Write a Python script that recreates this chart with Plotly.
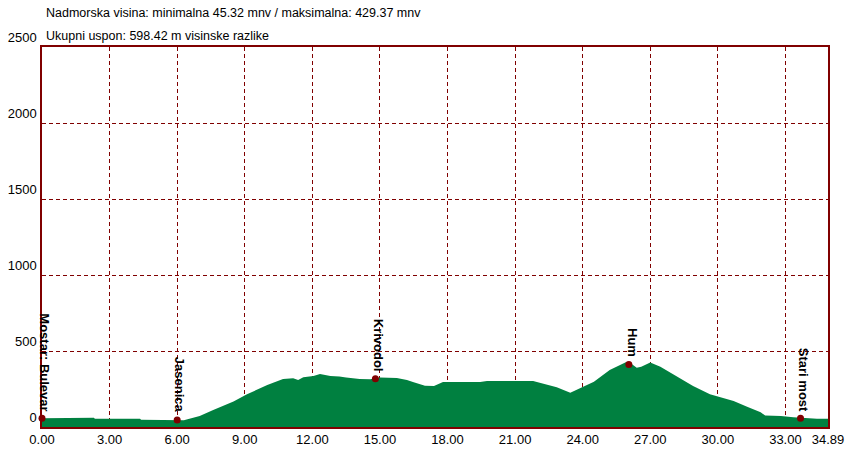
import plotly.graph_objects as go

# Elevation profile (distance km, elevation m)
dist_km = [0, 0.95, 1.0, 2.3, 2.35, 4.35, 4.4, 6.0, 6.3, 6.42, 7.0, 7.6, 8.5, 9.1, 10.0,
           10.7, 11.15, 11.37, 11.6, 12.05, 12.34, 12.8, 13.2, 13.5, 14.1, 14.57, 15.0,
           15.75, 16.2, 16.5, 17.0, 17.4, 17.8, 19.45, 19.75, 21.8, 22.25, 22.85, 23.45,
           24.0, 24.5, 25.2, 25.7, 25.96, 26.1, 26.4, 26.6, 27.0, 27.45, 28.2, 28.9,
           29.65, 30.1, 30.7, 31.3, 31.9, 32.1, 32.8, 33.35, 33.66, 34.4, 34.89]
elev_m = [57, 57, 61, 61, 55, 55, 47, 46, 45, 50, 72, 112, 167, 215, 276,
          316, 320, 309, 327, 335, 349, 335, 333, 325, 316, 314, 325,
          322, 309, 294, 272, 270, 296, 296, 303, 303, 287, 261, 226,
          261, 298, 375, 408, 429, 423, 390, 397, 425, 397, 331, 270,
          215, 197, 171, 134, 97, 75, 72, 64, 61, 55, 55]

# Waypoints
wp_names = ["Mostar: Bulevar", "Jasenica", "Krivodol", "Hum", "Stari most"]
wp_km = [0.0, 6.0, 14.8, 26.05, 33.67]
wp_elev = [57, 46, 318, 412, 57]

x_ticks = [0, 3, 6, 9, 12, 15, 18, 21, 24, 27, 30, 33, 34.89]
x_tick_text = ["0.00", "3.00", "6.00", "9.00", "12.00", "15.00", "18.00", "21.00",
               "24.00", "27.00", "30.00", "33.00", "34.89"]
y_ticks = [0, 500, 1000, 1500, 2000, 2500]

title_line1 = "Nadmorska visina: minimalna 45.32 mnv / maksimalna: 429.37 mnv"
title_line2 = "Ukupni uspon: 598.42 m visinske razlike"

GRID = "#800000"
FONT = "Liberation Sans"

fig = go.Figure()
fig.add_trace(go.Scatter(x=dist_km, y=elev_m, mode="lines", fill="tozeroy",
                         fillcolor="rgb(0,128,64)", line=dict(width=0, color="rgb(0,128,64)"),
                         hoverinfo="skip", showlegend=False))
fig.add_trace(go.Scatter(x=wp_km, y=wp_elev, mode="markers",
                         marker=dict(symbol="circle", size=7, color="#800000"),
                         showlegend=False, cliponaxis=False))

for n, xk, ye in zip(wp_names, wp_km, wp_elev):
    fig.add_annotation(x=xk, y=ye, text="<b>" + n + "</b>", textangle=90, showarrow=False,
                       xanchor="center", yanchor="bottom", xshift=3, yshift=5,
                       font=dict(family=FONT, size=13, color="black"))

fig.add_annotation(xref="paper", yref="paper", x=0.002, y=1.0895, text=title_line1,
                   showarrow=False, xanchor="left", yanchor="middle",
                   font=dict(family=FONT, size=12.5, color="black"))
fig.add_annotation(xref="paper", yref="paper", x=0.002, y=1.029, text=title_line2,
                   showarrow=False, xanchor="left", yanchor="middle",
                   font=dict(family=FONT, size=12.5, color="black"))

fig.update_xaxes(range=[0, 34.89], tickvals=x_ticks, ticktext=x_tick_text,
                 showgrid=True, gridcolor=GRID, gridwidth=1, griddash="4px,3px",
                 showline=True, linecolor=GRID, linewidth=1.5, mirror=True, automargin=False,
                 ticks="", zeroline=False, tickfont=dict(family=FONT, size=13, color="black"))
fig.update_yaxes(range=[0, 2500], tickvals=y_ticks, automargin=False,
                 showgrid=True, gridcolor=GRID, gridwidth=1, griddash="4px,3px",
                 showline=True, linecolor=GRID, linewidth=1.5, mirror=True,
                 ticks="", zeroline=False, ticklabelposition="outside top", ticklabelstandoff=1,
                 tickfont=dict(family=FONT, size=13, color="black"))

fig.update_layout(width=850, height=450, margin=dict(l=42, r=22, t=47, b=23),
                  paper_bgcolor="white", plot_bgcolor="white", showlegend=False)

fig.write_html("out.html", config={"displayModeBar": False},
               post_script="document.body.style.margin='0';document.body.style.overflow='hidden';")
